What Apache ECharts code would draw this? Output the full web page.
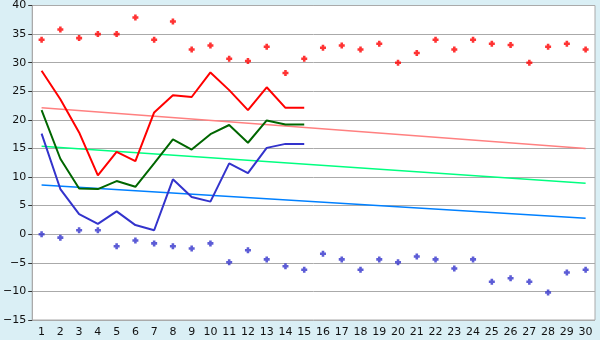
<!DOCTYPE html>
<html><head><meta charset="utf-8">
<script src="https://cdn.jsdelivr.net/npm/echarts@6/dist/echarts.min.js"></script>
<style>html,body{margin:0;padding:0;background:#daeff5;}#c{width:600px;height:340px;}</style>
</head><body><div id="c"></div>
<script>
var categories = [];
for (var i = 1; i <= 30; i++) categories.push(String(i));
var yTicks = [-15, 40, 5];

var redLine   = [28.6, 23.6, 17.8, 10.3, 14.4, 12.8, 21.3, 24.3, 24.0, 28.3, 25.2, 21.7, 25.7, 22.1, 22.1];
var greenLine = [21.7, 13.2, 8.0, 7.9, 9.3, 8.3, 12.4, 16.6, 14.8, 17.5, 19.1, 16.0, 19.9, 19.2, 19.2];
var blueLine  = [17.6, 7.9, 3.5, 1.8, 4.0, 1.6, 0.7, 9.6, 6.5, 5.7, 12.4, 10.7, 15.1, 15.8, 15.8];

var redPts  = [34.0, 35.8, 34.3, 35.0, 35.0, 37.9, 34.0, 37.2, 32.3, 33.0, 30.7, 30.3, 32.8, 28.2, 30.7,
               32.6, 33.0, 32.3, 33.3, 30.0, 31.7, 34.0, 32.3, 34.0, 33.3, 33.1, 30.0, 32.8, 33.3, 32.3];
var bluePts = [0.0, -0.6, 0.7, 0.7, -2.1, -1.1, -1.6, -2.1, -2.5, -1.6, -4.9, -2.8, -4.4, -5.6, -6.2,
               -3.4, -4.4, -6.2, -4.4, -4.9, -3.9, -4.4, -6.0, -4.4, -8.3, -7.7, -8.3, -10.2, -6.7, -6.2];

var trendRed   = [22.1, 15.0];
var trendGreen = [15.4, 8.9];
var trendBlue  = [8.6, 2.8];

function trend(v){ return [[categories[0], v[0]], [categories[categories.length-1], v[1]]]; }
var plus = 'path://M2,0H5V2H7V5H5V7H2V5H0V2H2Z';

var chart = echarts.init(document.getElementById('c'), null, {renderer:'canvas'});
chart.setOption({
  animation:false,
  backgroundColor:'#daeff5',
  grid:{left:26,right:5,top:5,bottom:20,show:true,backgroundColor:'#ffffff',borderColor:'#aaaaaa',borderWidth:1},
  xAxis:{type:'category',data:categories,boundaryGap:true,
    axisLine:{lineStyle:{color:'#aaaaaa'}},
    axisTick:{alignWithLabel:true,length:5,lineStyle:{color:'#333'}},
    axisLabel:{color:'#111',fontFamily:'DejaVu Sans',fontSize:11,margin:7,interval:0},
    splitLine:{show:false}},
  yAxis:{type:'value',min:yTicks[0],max:yTicks[1],interval:yTicks[2],
    axisLine:{show:true,lineStyle:{color:'#aaaaaa'}},
    axisTick:{show:true,length:4,lineStyle:{color:'#333'}},
    axisLabel:{color:'#111',fontFamily:'DejaVu Sans',fontSize:11,margin:6,
      formatter:function(v){return String(v).replace('-','\u2212');}},
    splitLine:{lineStyle:{color:'#aaaaaa',width:1}}},
  series:[
    {type:'line',data:trend(trendRed),symbol:'none',lineStyle:{color:'#ff8080',width:1.5},silent:true},
    {type:'line',data:trend(trendGreen),symbol:'none',lineStyle:{color:'#00ff80',width:1.5},silent:true},
    {type:'line',data:trend(trendBlue),symbol:'none',lineStyle:{color:'#0080ff',width:1.5},silent:true},
    {type:'line',data:redLine,symbol:'none',lineStyle:{color:'#ff0000',width:2}},
    {type:'line',data:greenLine,symbol:'none',lineStyle:{color:'#006600',width:2}},
    {type:'line',data:blueLine,symbol:'none',lineStyle:{color:'#3333cc',width:2}},
    {type:'scatter',data:redPts,symbol:plus,symbolSize:6,itemStyle:{color:'#ff0000'}},
    {type:'scatter',data:bluePts,symbol:plus,symbolSize:6,itemStyle:{color:'#3333cc'}}
  ]
});
</script></body></html>
